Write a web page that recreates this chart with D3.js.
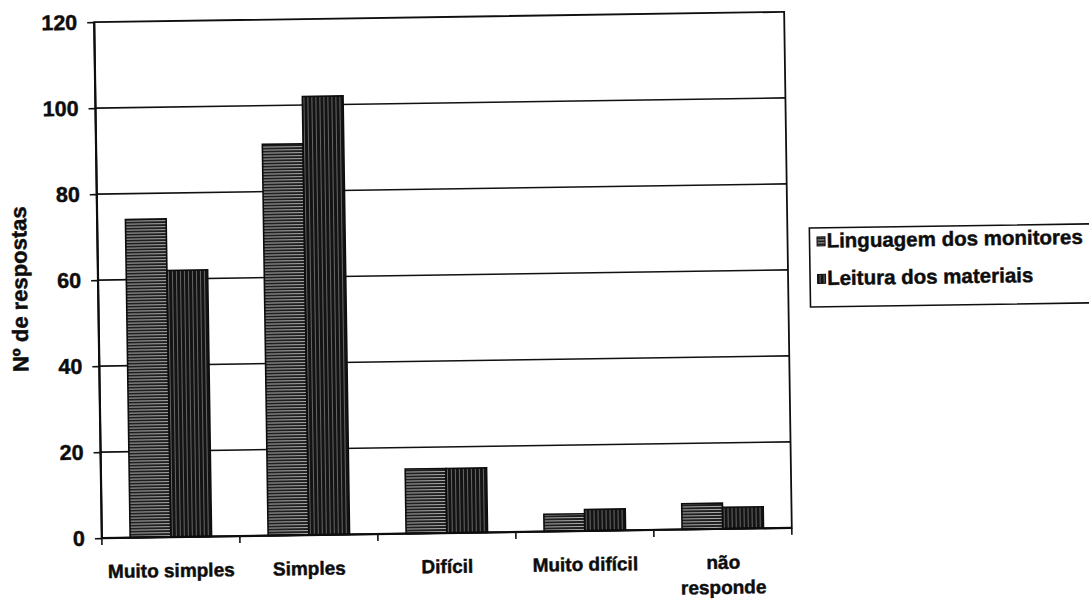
<!DOCTYPE html>
<html>
<head>
<meta charset="utf-8">
<script src="https://cdn.jsdelivr.net/npm/d3@7"></script>
<style>
  html, body { margin: 0; padding: 0; background: #ffffff; }
  svg { display: block; }
  text { font-family: "Liberation Sans", Arial, sans-serif; font-weight: bold; fill: #0d0d0d; stroke: #0d0d0d; stroke-width: 0.45px; }
</style>
</head>
<body>
<svg id="chart" width="1089" height="603"></svg>
<script>
// Response counts per difficulty level
const categories = ["Muito simples", "Simples", "Difícil", "Muito difícil", "não\nresponde"];
const seriesNames = ["Linguagem dos monitores", "Leitura dos materiais"];
const linguagem = [74, 91, 15, 4, 6];
const leitura = [62, 102, 15, 5, 5];
const yTicks = [0, 20, 40, 60, 80, 100, 120];
const yTitle = "Nº de respostas";

const seriesValues = [linguagem, leitura];
const rows = categories.map((c, i) => ({ cat: c, vals: seriesNames.map((s, j) => ({ s, v: seriesValues[j][i] })) }));

const svg = d3.select("#chart");

// Pattern fills: horizontal hatching and vertical hatching
const defs = svg.append("defs");
const pH = defs.append("pattern").attr("id", "hatchH").attr("patternUnits", "userSpaceOnUse")
  .attr("width", 4).attr("height", 3);
pH.append("rect").attr("width", 4).attr("height", 3).attr("fill", "#1f1f1f");
pH.append("rect").attr("y", 1).attr("width", 4).attr("height", 1).attr("fill", "#a9a9a9");

const pV = defs.append("pattern").attr("id", "hatchV").attr("patternUnits", "userSpaceOnUse")
  .attr("width", 4).attr("height", 4);
pV.append("rect").attr("width", 4).attr("height", 4).attr("fill", "#141414");
pV.append("rect").attr("x", 2).attr("width", 1).attr("height", 4).attr("fill", "#666666");

const fills = { [seriesNames[0]]: "url(#hatchH)", [seriesNames[1]]: "url(#hatchV)" };

// The printed page sits slightly tilted
const page = svg.append("g").attr("transform", "rotate(-0.85, 443, 275)");

const plot = { left: 98, top: 17, width: 690, height: 516 };
const g = page.append("g").attr("transform", `translate(${plot.left},${plot.top})`);

const x0 = d3.scaleBand().domain(categories).range([0, plot.width]).padding(0);
const x1 = d3.scaleBand().domain(seriesNames)
  .range([x0.bandwidth() * 0.205, x0.bandwidth() * 0.795]).padding(0);
const y = d3.scaleLinear().domain([0, 120]).range([plot.height, 0]);

// Gridlines
g.append("g").selectAll("line").data(yTicks.filter(t => t > 0 && t < 120)).join("line")
  .attr("x1", 0).attr("x2", plot.width)
  .attr("y1", d => y(d)).attr("y2", d => y(d))
  .attr("stroke", "#111").attr("stroke-width", 1.6);

// Bars
const groups = g.append("g").selectAll("g").data(rows).join("g")
  .attr("transform", d => `translate(${x0(d.cat)},0)`);
groups.selectAll("rect").data(d => d.vals).join("rect")
  .attr("x", d => x1(d.s))
  .attr("width", x1.bandwidth())
  .attr("y", d => y(d.v))
  .attr("height", d => y(0) - y(d.v))
  .attr("fill", d => fills[d.s])
  .attr("stroke", "#0d0d0d").attr("stroke-width", 1.6);

// Plot frame
g.append("rect").attr("x", 0).attr("y", 0).attr("width", plot.width).attr("height", plot.height)
  .attr("fill", "none").attr("stroke", "#0f0f0f").attr("stroke-width", 1.8);
g.append("line").attr("x1", 0).attr("x2", 0).attr("y1", 0).attr("y2", plot.height)
  .attr("stroke", "#0d0d0d").attr("stroke-width", 2.2);
g.append("line").attr("x1", 0).attr("x2", plot.width).attr("y1", plot.height).attr("y2", plot.height)
  .attr("stroke", "#0d0d0d").attr("stroke-width", 2.2);

// Y axis
const yAxis = g.append("g").call(d3.axisLeft(y).tickValues(yTicks).tickSize(7).tickPadding(10).tickSizeOuter(0));
yAxis.select(".domain").remove();
yAxis.selectAll(".tick line").attr("stroke", "#111").attr("stroke-width", 1.6);
yAxis.selectAll(".tick text").style("font-size", "21.5px").attr("fill", "#0d0d0d")
  .style("font-family", "'Liberation Sans', Arial, sans-serif").style("font-weight", "bold");

// X axis: tick marks at category boundaries, labels centred in each band
const bounds = categories.map(c => x0(c)).concat([plot.width]);
g.append("g").selectAll("line").data(bounds).join("line")
  .attr("x1", d => d).attr("x2", d => d)
  .attr("y1", plot.height).attr("y2", plot.height + 7)
  .attr("stroke", "#111").attr("stroke-width", 1.6);

const xLabels = g.append("g").selectAll("text").data(categories).join("text")
  .attr("text-anchor", "middle")
  .attr("transform", d => `translate(${x0(d) + x0.bandwidth() / 2},${plot.height + 40})`)
  .style("font-size", "19px");
xLabels.each(function (d) {
  const t = d3.select(this);
  d.split("\n").forEach((line, i) => {
    t.append("tspan").attr("x", 0).attr("y", i * 25).text(line);
  });
});

// Y axis title
page.append("text")
  .attr("transform", "translate(27,283) rotate(-90)")
  .attr("text-anchor", "middle")
  .style("font-size", "22px")
  .text(yTitle);

// Legend
const legend = page.append("g");
legend.append("rect").attr("x", 810).attr("y", 233.5).attr("width", 320).attr("height", 79)
  .attr("fill", "#fff").attr("stroke", "#0f0f0f").attr("stroke-width", 1.6);
const items = legend.selectAll("g.item").data(seriesNames).join("g").attr("class", "item")
  .attr("transform", (d, i) => `translate(817.5,${247 + i * 37.5})`);
items.append("rect").attr("x", 0).attr("y", -4.5).attr("width", 8).attr("height", 9)
  .attr("fill", d => fills[d]).attr("stroke", "#0d0d0d").attr("stroke-width", 1);
items.append("text").attr("x", 9.5).attr("y", 6.3).style("font-size", "20.5px").text(d => d);
</script>
</body>
</html>
